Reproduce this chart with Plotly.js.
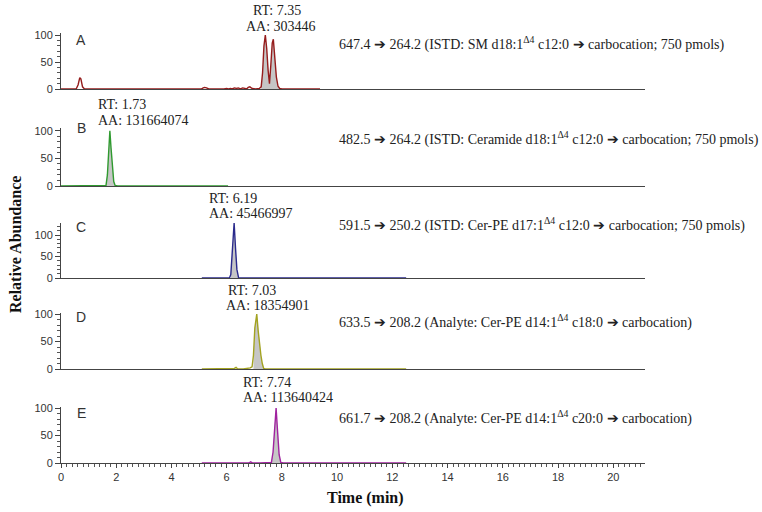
<!DOCTYPE html>
<html>
<head>
<meta charset="utf-8">
<script src="https://cdn.plot.ly/plotly-3.0.1.min.js"></script>
<style>
  body { margin: 0; background: #fff; }
  #chart { width: 762px; height: 512px; }
</style>
</head>
<body>
<div id="chart"></div>
<script>
// chromatogram traces, time (min) vs relative abundance
const timeA = [0, 0.55, 0.62, 0.68, 0.72, 0.78, 0.85, 2, 4, 5.08, 5.15, 5.2, 5.27, 5.35, 5.9, 6.0, 6.06, 6.14, 6.2, 6.28, 6.36, 6.42, 6.5, 6.58, 6.66, 6.72, 6.78, 6.84, 6.92, 7.05, 7.18, 7.25, 7.3, 7.35, 7.4, 7.45, 7.5, 7.55, 7.6, 7.65, 7.69, 7.74, 7.8, 7.86, 7.92, 8.0, 8.6, 9.38];
const intA  = [0, 0, 8, 21, 19, 4, 0, 0, 0, 0, 2, 3, 2, 0, 0, 1, 0, 1, 0, 2, 1, 2, 0, 2, 1, 0, 3, 4, 1, 0, 1, 4, 30, 80, 100, 75, 35, 10, 45, 85, 92, 65, 22, 5, 1, 0, 0, 0];
const timeB = [0, 1.0, 1.55, 1.63, 1.68, 1.73, 1.77, 1.81, 1.86, 1.91, 1.96, 2.05, 3, 4, 5, 6.05];
const intB  = [0, 0, 0, 1, 20, 65, 100, 70, 30, 8, 1, 0, 0, 0, 0, 0];
const timeC = [5.1, 5.8, 6.1, 6.15, 6.2, 6.27, 6.32, 6.37, 6.43, 6.5, 8, 10, 12.5];
const intC  = [0, 0, 0, 8, 60, 128, 70, 20, 1, 0, 0, 0, 0];
const timeD = [5.1, 6.2, 6.28, 6.34, 6.4, 6.6, 6.8, 6.85, 6.92, 6.97, 7.02, 7.09, 7.14, 7.19, 7.24, 7.29, 7.34, 7.4, 9, 11, 12.5];
const intD  = [0, 0, 1, 3, 0, 0, 1, 2, 4, 25, 75, 100, 70, 40, 25, 10, 1, 0, 0, 0, 0];
const timeE = [5.1, 6.6, 6.8, 6.87, 6.94, 7.2, 7.55, 7.62, 7.68, 7.74, 7.79, 7.84, 7.9, 7.96, 8.05, 10, 12.5];
const intE  = [0, 0, 0, 2, 0, 0, 0, 1, 20, 70, 100, 60, 15, 1, 0, 0, 0];

// integration windows (shaded peak area)
const peakWin = [[7.25, 7.92], [1.63, 1.96], [6.15, 6.43], [6.97, 7.34], [7.62, 7.96]];

const panelLetters = ['A', 'B', 'C', 'D', 'E'];
const rtLabels = ['RT: 7.35', 'RT: 1.73', 'RT: 6.19', 'RT: 7.03', 'RT: 7.74'];
const aaLabels = ['AA: 303446', 'AA: 131664074', 'AA: 45466997', 'AA: 18354901', 'AA: 113640424'];
const transitions = [
  '647.4 ➔ 264.2 (ISTD: SM d18:1<sup>Δ4</sup> c12:0 ➔ carbocation; 750 pmols)',
  '482.5 ➔ 264.2 (ISTD: Ceramide d18:1<sup>Δ4</sup> c12:0 ➔ carbocation; 750 pmols)',
  '591.5 ➔ 250.2 (ISTD: Cer-PE d17:1<sup>Δ4</sup> c12:0 ➔ carbocation; 750 pmols)',
  '633.5 ➔ 208.2 (Analyte: Cer-PE d14:1<sup>Δ4</sup> c18:0 ➔ carbocation)',
  '661.7 ➔ 208.2 (Analyte: Cer-PE d14:1<sup>Δ4</sup> c20:0 ➔ carbocation)'
];

const times = [timeA, timeB, timeC, timeD, timeE];
const ints = [intA, intB, intC, intD, intE];
const colors = ['#951c1c', '#2f9a2f', '#2a2a8c', '#a3a321', '#a0229f'];

// pixel layout helpers
const W = 762, H = 512, L = 61, R = 645;
const px = v => (v - L) / (R - L);
const py = v => 1 - v / H;

// panel top/bottom in px, y range top
const panelTop = [33, 128, 223, 313, 407];
const panelBot = [89, 186, 278, 369, 463];
const yTop = [103.7, 105, 128, 102, 102];
const rtPos = [[251, 10, 244, 26], [96, 104, 96, 120], [207, 198, 207, 213], [226, 290, 224, 305], [241, 382, 241, 397]];
const letterY = [40, 128, 227, 317, 413];
const transY = [43, 138, 224, 321, 417];

const serif = 'Liberation Serif, Times New Roman, serif';
const sans = 'Liberation Sans, Arial, sans-serif';

const traces = [];
const layout = {
  width: W, height: H,
  margin: {l: L, r: W - R, t: 0, b: 0},
  paper_bgcolor: '#fff', plot_bgcolor: '#fff',
  showlegend: false,
  annotations: []
};

for (let i = 0; i < 5; i++) {
  const n = i === 0 ? '' : String(i + 1);
  const t = times[i], y = ints[i];
  const [a, b] = peakWin[i];
  const fx = [], fy = [];
  t.forEach((v, k) => { if (v >= a && v <= b) { fx.push(v); fy.push(y[k]); } });
  traces.push({
    x: fx, y: fy, xaxis: 'x' + n, yaxis: 'y' + n, type: 'scatter', mode: 'lines',
    fill: 'tozeroy', fillcolor: '#c6c6c6', line: {width: 0}, hoverinfo: 'skip'
  });
  traces.push({
    x: t, y: y, xaxis: 'x' + n, yaxis: 'y' + n, type: 'scatter', mode: 'lines',
    line: {color: colors[i], width: 1.4}
  });

  const bottom = i === 4;
  layout['xaxis' + n] = {
    anchor: 'y' + n, range: [0, 21.15], showgrid: false, zeroline: false,
    showline: true, linecolor: '#444', linewidth: 1,
    ticks: bottom ? 'outside' : '', ticklen: 4, tickcolor: '#444', dtick: 2, tick0: 0,
    showticklabels: bottom,
    tickfont: {family: sans, size: 11, color: '#333'},
    minor: bottom ? {dtick: 0.2, ticks: 'outside', ticklen: 3, tickcolor: '#555'} : undefined
  };
  layout['yaxis' + n] = {
    anchor: 'x' + n, domain: [py(panelBot[i]), py(panelTop[i])], range: [0, yTop[i]],
    showgrid: false, zeroline: false, showline: true, linecolor: '#444', linewidth: 1,
    ticks: 'outside', ticklen: 5, tickcolor: '#444', dtick: 50, tick0: 0,
    tickfont: {family: sans, size: 11, color: '#333'},
    minor: {dtick: 10, ticks: 'outside', ticklen: 3, tickcolor: '#555'}
  };

  const ann = (text, x, yy, font, anchor) => layout.annotations.push({
    text: text, xref: 'paper', yref: 'paper', x: px(x), y: py(yy),
    xanchor: anchor || 'left', yanchor: 'middle', showarrow: false, font: font
  });
  ann(panelLetters[i], 81, letterY[i], {family: sans, size: 14, color: '#333'}, 'center');
  ann(rtLabels[i], rtPos[i][0], rtPos[i][1], {family: serif, size: 14, color: '#222'});
  ann(aaLabels[i], rtPos[i][2], rtPos[i][3], {family: serif, size: 14, color: '#222'});
  ann(transitions[i], 337, transY[i], {family: serif, size: 14, color: '#222'});
}

layout.annotations.push({
  text: '<b>Time (min)</b>', xref: 'paper', yref: 'paper', x: px(365), y: py(498),
  xanchor: 'center', yanchor: 'middle', showarrow: false,
  font: {family: serif, size: 16, color: '#111'}
});
layout.annotations.push({
  text: '<b>Relative Abundance</b>', xref: 'paper', yref: 'paper', x: px(15), y: py(245),
  xanchor: 'center', yanchor: 'middle', textangle: -90, showarrow: false,
  font: {family: serif, size: 16, color: '#111'}
});

Plotly.newPlot('chart', traces, layout, {displayModeBar: false, staticPlot: true});
</script>
</body>
</html>
